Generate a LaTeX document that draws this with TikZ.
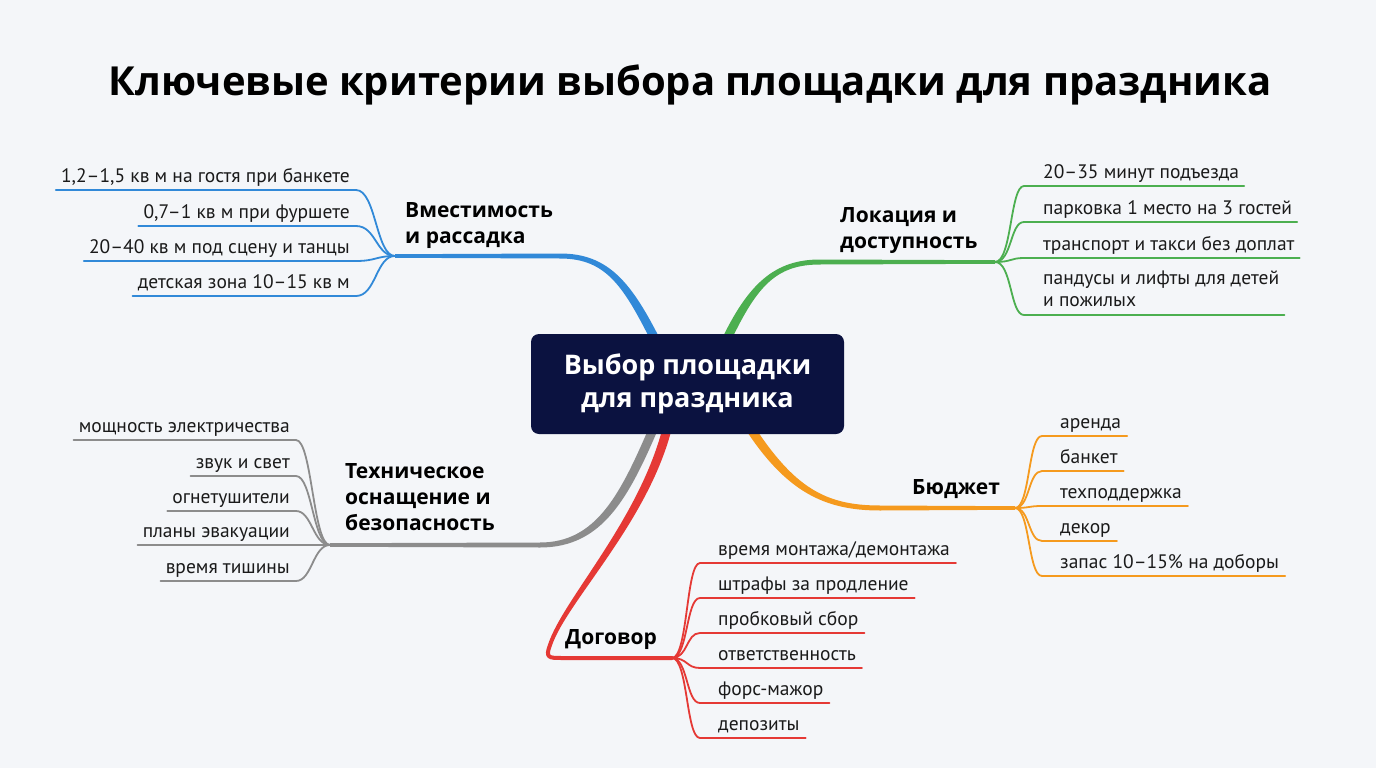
\documentclass[tikz,border=0pt]{standalone}
\usepackage{fontspec}
\setmainfont{Open Sans}
\newfontfamily\leaffont{PT Sans}
\usetikzlibrary{calc}
\definecolor{bgc}{HTML}{F4F6F9}
\definecolor{navy}{HTML}{0B1240}
\definecolor{cblue}{HTML}{3189D8}
\definecolor{cgreen}{HTML}{4CAF50}
\definecolor{cgray}{HTML}{8C8C8C}
\definecolor{cred}{HTML}{E53935}
\definecolor{corange}{HTML}{F59A1E}
\definecolor{txt}{HTML}{1A1A1A}
\begin{document}
\begin{tikzpicture}[x=1pt,y=-1pt,
  leaf/.style={font=\leaffont\fontsize{19.5}{22}\selectfont, inner sep=0pt, text=txt},
  lbl/.style={font=\fontsize{21}{26}\selectfont\bfseries, inner sep=0pt, text=black, align=left},
  twig/.style={line width=1.8pt, line cap=round, line join=round},
]
\useasboundingbox[fill=bgc] (0,0) rectangle (1376,768);

\node[font=\fontsize{40}{44}\selectfont\bfseries, text=black] (title) at (690,85) {Ключевые критерии выбора площадки для праздника};

% hubs
\coordinate (bh) at (395,256);
\coordinate (gh) at (995,262);
\coordinate (grh) at (330,545);
\coordinate (rh) at (672,658);
\coordinate (oh) at (1015,508);

% main branches (tapered)
\fill[cblue] (662,343) .. controls (632,283) and (609,253.5) .. (560,253.5) -- (395,254.2) -- (395,257.8) -- (560,258.5) .. controls (607,258.5) and (624,287) .. (654,347) -- cycle;

\fill[cgreen] (719.9,343.1) .. controls (747.9,283.1) and (775,259.5) .. (820,259.5) -- (995,260.2) -- (995,263.8) -- (820,264.5) .. controls (775,264.5) and (756,287) .. (728,347) -- cycle;

\fill[cgray] (659.1,426.8) .. controls (629,497) and (603,547.5) .. (540,547.5) -- (330,546.8) -- (330,543.2) -- (540,542.5) .. controls (597,542.5) and (621,493) .. (650.9,423.2) -- cycle;

\fill[cred] (672.4,426.1) .. controls (649.4,521.1) and (567,601) .. (551.9,645.6) -- (548.1,644.4) .. controls (563,599) and (640.6,518.9) .. (663.6,423.9) -- cycle;
\draw[cred, line width=4pt, line cap=round, line join=round] (550,645) .. controls (545,658) and (549,658) .. (562,658) -- (rh);

\fill[corange] (744.2,427.4) .. controls (786.2,492.4) and (825,510.5) .. (880,510.5) -- (1015,509.8) -- (1015,506.2) -- (880,505.5) .. controls (825,505.5) and (793.8,487.6) .. (751.8,422.6) -- cycle;

% centre
\node[fill=navy, rounded corners=8pt, minimum width=313pt, minimum height=100pt, inner sep=0pt,
      text=white, align=center, font=\fontsize{27}{33}\selectfont\bfseries] (c) at (687.5,384) {Выбор площадки\\для праздника};

% branch labels
\node[lbl, anchor=north west] (bl) at (405,202) {Вместимость\\и рассадка};
\node[lbl, anchor=north west] (gl) at (840,207) {Локация и\\доступность};
\node[lbl, anchor=north west] (grl) at (345,463) {Техническое\\оснащение и\\безопасность};
\node[lbl, anchor=north west] (ol) at (912,479) {Бюджет};
\node[lbl, anchor=north west] (rl) at (565,629) {Договор};

% blue leaves
\node[leaf, anchor=base east] (b1) at (350,182) {1,2–1,5 кв м на гостя при банкете};
\node[leaf, anchor=base east] (b2) at (350,218) {0,7–1 кв м при фуршете};
\node[leaf, anchor=base east] (b3) at (350,253) {20–40 кв м под сцену и танцы};
\node[leaf, anchor=base east] (b4) at (350,288) {детская зона 10–15 кв м};
\draw[twig, cblue] (bh) .. controls (376,256) and (376,190) .. (356,190) -- ($(b1.base west)+(-5,8)$);
\draw[twig, cblue] (bh) .. controls (376,256) and (376,226) .. (356,226) -- ($(b2.base west)+(-5,8)$);
\draw[twig, cblue] (bh) .. controls (376,256) and (376,261) .. (356,261) -- ($(b3.base west)+(-5,8)$);
\draw[twig, cblue] (bh) .. controls (376,256) and (376,296) .. (356,296) -- ($(b4.base west)+(-5,8)$);

% green leaves
\node[leaf, anchor=base west] (g1) at (1043,178) {20–35 минут подъезда};
\node[leaf, anchor=base west] (g2) at (1043,214) {парковка 1 место на 3 гостей};
\node[leaf, anchor=base west] (g3) at (1043,250) {транспорт и такси без доплат};
\node[leaf, anchor=base west, align=left] (g4) at (1043,306) {пандусы и лифты для детей\\и пожилых};
\draw[twig, cgreen] (gh) .. controls (1012,262) and (1010,186) .. (1024,186) -- ($(g1.base east)+(5,8)$);
\draw[twig, cgreen] (gh) .. controls (1012,262) and (1010,222) .. (1024,222) -- ($(g2.base east)+(5,8)$);
\draw[twig, cgreen] (gh) .. controls (1012,262) and (1010,258) .. (1024,258) -- ($(g3.base east)+(5,8)$);
\draw[twig, cgreen] (gh) .. controls (1012,262) and (1010,315) .. (1024,315) -- ($(g4.east |- 0,315)+(5,0)$);

% gray leaves
\node[leaf, anchor=base east] (t1) at (290,432) {мощность электричества};
\node[leaf, anchor=base east] (t2) at (290,468) {звук и свет};
\node[leaf, anchor=base east] (t3) at (290,503) {огнетушители};
\node[leaf, anchor=base east] (t4) at (290,537) {планы эвакуации};
\node[leaf, anchor=base east] (t5) at (290,573) {время тишины};
\draw[twig, cgray] (grh) .. controls (313,545) and (312,440) .. (296,440) -- ($(t1.base west)+(-5,8)$);
\draw[twig, cgray] (grh) .. controls (313,545) and (312,476) .. (296,476) -- ($(t2.base west)+(-5,8)$);
\draw[twig, cgray] (grh) .. controls (313,545) and (312,511) .. (296,511) -- ($(t3.base west)+(-5,8)$);
\draw[twig, cgray] (grh) .. controls (313,545) and (312,545) .. (296,545) -- ($(t4.base west)+(-5,8)$);
\draw[twig, cgray] (grh) .. controls (313,545) and (312,581) .. (296,581) -- ($(t5.base west)+(-5,8)$);

% red leaves
\node[leaf, anchor=base west] (r1) at (718,555) {время монтажа/демонтажа};
\node[leaf, anchor=base west] (r2) at (718,590) {штрафы за продление};
\node[leaf, anchor=base west] (r3) at (718,625) {пробковый сбор};
\node[leaf, anchor=base west] (r4) at (718,660) {ответственность};
\node[leaf, anchor=base west] (r5) at (718,695) {форс-мажор};
\node[leaf, anchor=base west] (r6) at (718,730) {депозиты};
\draw[twig, cred] (rh) .. controls (688,658) and (686,563) .. (700,563) -- ($(r1.base east)+(6,8)$);
\draw[twig, cred] (rh) .. controls (688,658) and (686,598) .. (700,598) -- ($(r2.base east)+(6,8)$);
\draw[twig, cred] (rh) .. controls (688,658) and (686,633) .. (700,633) -- ($(r3.base east)+(6,8)$);
\draw[twig, cred] (rh) .. controls (688,658) and (686,668) .. (700,668) -- ($(r4.base east)+(6,8)$);
\draw[twig, cred] (rh) .. controls (688,658) and (686,703) .. (700,703) -- ($(r5.base east)+(6,8)$);
\draw[twig, cred] (rh) .. controls (688,658) and (686,738) .. (700,738) -- ($(r6.base east)+(6,8)$);

% orange leaves
\node[leaf, anchor=base west] (o1) at (1060,428) {аренда};
\node[leaf, anchor=base west] (o2) at (1060,463) {банкет};
\node[leaf, anchor=base west] (o3) at (1060,498) {техподдержка};
\node[leaf, anchor=base west] (o4) at (1060,533) {декор};
\node[leaf, anchor=base west] (o5) at (1060,568) {запас 10–15\% на доборы};
\draw[twig, corange] (oh) .. controls (1030,508) and (1028,436) .. (1042,436) -- ($(o1.base east)+(6,8)$);
\draw[twig, corange] (oh) .. controls (1030,508) and (1028,471) .. (1042,471) -- ($(o2.base east)+(6,8)$);
\draw[twig, corange] (oh) .. controls (1030,508) and (1028,506) .. (1042,506) -- ($(o3.base east)+(6,8)$);
\draw[twig, corange] (oh) .. controls (1030,508) and (1028,541) .. (1042,541) -- ($(o4.base east)+(6,8)$);
\draw[twig, corange] (oh) .. controls (1030,508) and (1028,576) .. (1042,576) -- ($(o5.base east)+(6,8)$);
\end{tikzpicture}
\end{document}
